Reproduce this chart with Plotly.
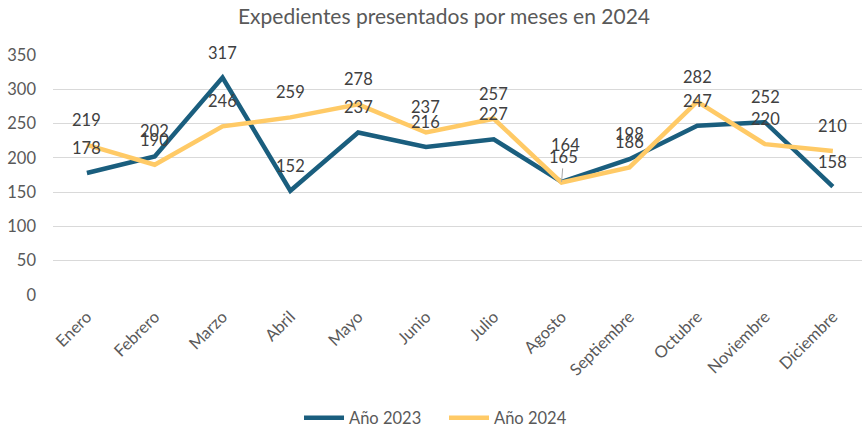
import plotly.graph_objects as go

meses = ["Enero", "Febrero", "Marzo", "Abril", "Mayo", "Junio", "Julio",
         "Agosto", "Septiembre", "Octubre", "Noviembre", "Diciembre"]
anio_2023 = [178, 202, 317, 152, 237, 216, 227, 165, 198, 247, 252, 158]
anio_2024 = [219, 190, 246, 259, 278, 237, 257, 164, 186, 282, 220, 210]

FONT = "Lato"
AZUL = "#1A5E7E"
AMARILLO = "#FFCA66"
GRIS_TXT = "#595959"
GRIS_ETQ = "#404040"

x_idx = list(range(len(meses)))

fig = go.Figure()
fig.add_trace(go.Scatter(x=x_idx, y=anio_2023, mode="lines", name="Año 2023",
                         line=dict(color=AZUL, width=4.5)))
fig.add_trace(go.Scatter(x=x_idx, y=anio_2024, mode="lines", name="Año 2024",
                         line=dict(color=AMARILLO, width=4.5)))

# data labels above each point
anots = []
for serie in (anio_2023, anio_2024):
    for i, v in enumerate(serie):
        a = dict(x=i, y=v, text=str(v), showarrow=False, yshift=25,
                 font=dict(family=FONT, size=16.5, color=GRIS_ETQ))
        anots.append(a)

# Agosto: the two labels collide, one is moved with a leader line
ago = meses.index("Agosto")
for a in anots:
    if a["x"] == ago and a["y"] == anio_2024[ago]:
        a["yshift"] = 38
        a["xshift"] = 4
    elif a["x"] == ago and a["y"] == anio_2023[ago]:
        a.update(showarrow=True, ax=2, ay=-25, arrowhead=0, arrowwidth=1,
                 arrowcolor="#A6A6A6", yshift=0, standoff=0)

fig.update_layout(
    width=863, height=431,
    margin=dict(l=53, r=1, t=55, b=136),
    paper_bgcolor="white", plot_bgcolor="white",
    font=dict(family=FONT, size=16, color=GRIS_TXT),
    title=dict(text="Expedientes presentados por meses en 2024",
               font=dict(family=FONT, size=21, color=GRIS_TXT),
               x=0.5145, xref="container", xanchor="center",
               y=0.962, yref="container", yanchor="middle"),
    showlegend=True,
    legend=dict(orientation="h", x=0.5145, xref="container", xanchor="center",
                y=0.03, yref="container", yanchor="middle",
                entrywidth=90, entrywidthmode="pixels", itemwidth=40,
                font=dict(family=FONT, size=16.5, color=GRIS_TXT)),
    annotations=anots,
)
fig.update_xaxes(
    range=[-0.5, 11.43], tickmode="array", tickvals=x_idx, ticktext=meses,
    tickangle=-45, showgrid=False, zeroline=False, showline=False,
    ticks="", ticklabelstandoff=8,
    tickfont=dict(family=FONT, size=16.5, color=GRIS_TXT),
)
fig.update_yaxes(
    range=[0, 350], dtick=50, showgrid=True, gridcolor="#D9D9D9", gridwidth=1,
    zeroline=False, showline=False, ticks="", ticklabelstandoff=16,
    tickfont=dict(family=FONT, size=16.5, color=GRIS_TXT),
)

fig.write_html("out.html")
